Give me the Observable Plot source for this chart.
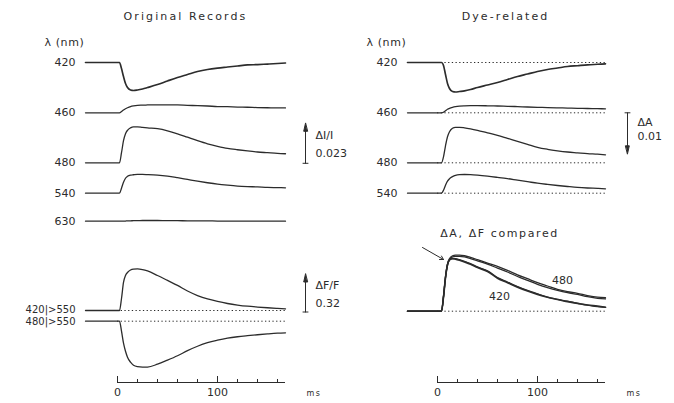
<!DOCTYPE html>
<html><head><meta charset="utf-8">
<script src="https://cdn.jsdelivr.net/npm/d3@7"></script>
<script src="https://cdn.jsdelivr.net/npm/@observablehq/plot@0.6"></script>
<style>
html,body{margin:0;padding:0;background:#fff;}
#chart svg{display:block;}
</style></head><body><div id="chart"></div>
<script>
// ---------------- DATA ----------------
const panels = ["Original Records", "Dye-related"];
const compareTitle = "ΔA, ΔF compared";
const lambdaLabel = "λ (nm)";
const unitLabel = "ms";
const axisTicks = [0, 20, 40, 60, 80, 100, 120, 140, 160];
const axisTickLabels = [0, 100];

// time (ms) of samples
const timeOriginal = [-32,0,2,4,6,8,10,13,16,20,25,30,40,50,60,70,80,90,100,110,120,130,140,150,160,168];
const timeDye      = [-30,0,4,6,8,10,12,15,18,22,27,33,40,50,60,70,80,90,100,110,120,130,140,150,160,168];

// Original records: transmitted light changes ΔI/I (×10⁻³)
const originalWavelengths = ["420", "460", "480", "540", "630"];
const orig420 = [0,0,0,-3.5,-8.1,-12.1,-14.4,-15.8,-16.1,-15.8,-15.2,-14.4,-12.7,-10.6,-8.6,-6.9,-5.2,-4.0,-3.2,-2.6,-2.0,-1.4,-1.2,-0.9,-0.6,-0.3];
const orig460 = [0,0,0,0.7,1.6,2.3,2.9,3.6,4.0,4.3,4.4,4.5,4.6,4.6,4.5,4.3,4.1,3.9,3.6,3.5,3.3,3.2,3.0,2.9,2.8,2.8];
const orig480 = [0,0,0,5.8,12.7,16.7,18.7,20.1,20.7,20.7,20.4,20.1,19.6,18.4,16.7,14.7,12.7,10.9,9.5,8.3,7.5,6.8,6.2,5.8,5.4,5.2];
const orig540 = [0,0,0,2.9,6.3,8.6,9.7,10.4,10.6,10.8,10.8,10.7,10.4,9.8,8.9,7.9,6.9,6.0,5.2,4.6,4.1,3.8,3.6,3.3,3.2,3.1];
const orig630 = [0,0,0,0,0,0.1,0.2,0.2,0.3,0.3,0.4,0.4,0.4,0.3,0.3,0.2,0.2,0.2,0.1,0.1,0.1,0.1,0,0,0,0];

// Fluorescence ΔF/F (excitation | emission)
const fluoLabels = ["420|>550", "480|>550"];
const fluo420 = [0,0,0,0.101,0.236,0.295,0.320,0.341,0.349,0.351,0.345,0.333,0.295,0.253,0.211,0.164,0.126,0.097,0.076,0.059,0.046,0.036,0.029,0.023,0.018,0.014];
const fluo480 = [0,0,0,-0.084,-0.185,-0.253,-0.303,-0.345,-0.371,-0.383,-0.387,-0.386,-0.362,-0.328,-0.291,-0.248,-0.211,-0.181,-0.160,-0.143,-0.131,-0.122,-0.114,-0.107,-0.101,-0.098];

// Dye-related absorbance changes ΔA (×10⁻³)
const dyeWavelengths = ["420", "460", "480", "540"];
const dye420 = [0,0,0,0.75,3,5.25,6.5,7.25,7.38,7.25,7.08,6.75,6.25,5.63,5,4.25,3.5,2.88,2.25,1.75,1.38,1,0.8,0.6,0.45,0.33];
const dye460 = [0,0,0,-0.13,-0.5,-0.88,-1.13,-1.38,-1.55,-1.68,-1.75,-1.78,-1.78,-1.75,-1.7,-1.63,-1.55,-1.45,-1.38,-1.3,-1.25,-1.18,-1.13,-1.08,-1.03,-1];
const dye480 = [0,0,0,-1.5,-4.25,-6.5,-7.75,-8.63,-8.88,-8.88,-8.75,-8.5,-8.13,-7.5,-6.88,-6.13,-5.38,-4.63,-3.88,-3.38,-3,-2.7,-2.5,-2.3,-2.15,-2];
const dye540 = [0,0,0,-0.75,-2,-3,-3.63,-4.13,-4.45,-4.63,-4.68,-4.63,-4.5,-4.25,-3.95,-3.63,-3.25,-2.88,-2.5,-2.2,-1.93,-1.68,-1.45,-1.3,-1.2,-1.1];

// ΔA, ΔF compared (normalized)
const compareLabels = ["480", "420"];
const cmp480A = [0,0,0,0.26,0.61,0.84,0.94,0.99,1,1,0.99,0.96,0.92,0.86,0.8,0.73,0.65,0.58,0.51,0.45,0.39,0.35,0.32,0.28,0.25,0.24];
const cmp480F = [0,0,0,0.26,0.6,0.82,0.92,0.97,0.98,0.98,0.97,0.94,0.9,0.84,0.77,0.7,0.62,0.55,0.48,0.42,0.37,0.33,0.3,0.26,0.23,0.22];
const cmp420A = [0,0,0,0.26,0.61,0.84,0.91,0.94,0.94,0.92,0.89,0.85,0.79,0.72,0.6,0.52,0.44,0.37,0.31,0.25,0.21,0.18,0.14,0.11,0.08,0.07];
const cmp420F = [0,0,0,0.25,0.6,0.83,0.92,0.94,0.93,0.91,0.88,0.84,0.78,0.71,0.59,0.51,0.43,0.36,0.3,0.25,0.21,0.17,0.14,0.11,0.09,0.07];

// calibration bars
const barAbs = {label: "ΔI/I", value: 0.023};
const barFluo = {label: "ΔF/F", value: 0.32};
const barDye = {label: "ΔA", value: 0.01};

// ---------------- LAYOUT ----------------
const W = 674, H = 403;
const ink = "#2c2c2c";
const [P0, P1] = panels;
const origRows = [62, 112.3, 162.3, 192.7, 220.7];
const fluoRows = [310, 320.7];
const dyeRows = [62, 112.3, 162.3, 192.7];
const cmpRow = 310.7;
const axisRow = 382;
const gAbs = 40 / 23;      // px per 1e-3 ΔI/I
const gFluo = 38 / 0.32;   // px per unit ΔF/F
const gDye = -4;           // px per 1e-3 ΔA (positive ΔA drawn downward)
const gCmp = 56;           // px per normalized unit
const t0 = timeOriginal[0], t1 = timeDye[0], tEnd = 168;

function series(panel, id, times, vals, base, gain, heavy) {
  return times.map((t, i) => ({panel, id, t, y: base - gain * vals[i], heavy}));
}
const traces = [
  ...series(P0, "o420", timeOriginal, orig420, origRows[0], gAbs, true),
  ...series(P0, "o460", timeOriginal, orig460, origRows[1], gAbs),
  ...series(P0, "o480", timeOriginal, orig480, origRows[2], gAbs),
  ...series(P0, "o540", timeOriginal, orig540, origRows[3], gAbs),
  ...series(P0, "o630", timeOriginal, orig630, origRows[4], gAbs),
  ...series(P0, "f420", timeOriginal, fluo420, fluoRows[0], gFluo),
  ...series(P0, "f480", timeOriginal, fluo480, fluoRows[1], gFluo),
  ...series(P1, "d420", timeDye, dye420, dyeRows[0], gDye, true),
  ...series(P1, "d460", timeDye, dye460, dyeRows[1], gDye),
  ...series(P1, "d480", timeDye, dye480, dyeRows[2], gDye),
  ...series(P1, "d540", timeDye, dye540, dyeRows[3], gDye),
  ...series(P1, "c480A", timeDye, cmp480A, cmpRow, gCmp),
  ...series(P1, "c480F", timeDye, cmp480F, cmpRow, gCmp),
  ...series(P1, "c420A", timeDye, cmp420A, cmpRow, gCmp),
  ...series(P1, "c420F", timeDye, cmp420F, cmpRow, gCmp, true)
];
const thin = traces.filter(d => !d.heavy), thick = traces.filter(d => d.heavy);

const dotted = [
  ...fluoRows.map(y => ({panel: P0, y})),
  ...dyeRows.map(y => ({panel: P1, y})),
  {panel: P1, y: cmpRow}
];
const rowLabels = [
  ...originalWavelengths.map((s, i) => ({panel: P0, x: t0, y: origRows[i], s})),
  ...dyeWavelengths.map((s, i) => ({panel: P1, x: t1, y: dyeRows[i], s}))
];
const fluoRowLabels = fluoLabels.map((s, i) => ({panel: P0, x: t0, y: fluoRows[i] + (i ? 1 : -0.5), s}));
const lambdas = [{panel: P0, x: t0}, {panel: P1, x: t1}];
const ticks = panels.flatMap(panel => axisTicks.map(t => ({panel, t, major: axisTickLabels.includes(t)})));
const tickLabels = panels.flatMap(panel => axisTickLabels.map(t => ({panel, t})));

// calibration bar shape: stem with filled narrow head and tail tick
const barShape = {
  draw(ctx, l) {
    ctx.moveTo(-2.5, 0); ctx.lineTo(2.5, 0);
    ctx.moveTo(0, 0); ctx.lineTo(0, -l + 7);
    ctx.moveTo(0, -l); ctx.lineTo(-1.8, -l + 8); ctx.lineTo(1.8, -l + 8); ctx.closePath();
  }
};
const bars = [
  {panel: P0, x: 188, y: origRows[2] + 0.5, len: barAbs.value * 1000 * gAbs, rot: 0},
  {panel: P0, x: 188, y: fluoRows[0] + 1.5, len: barFluo.value * gFluo, rot: 0},
  {panel: P1, x: 190, y: dyeRows[1], len: barDye.value * 1000 * Math.abs(gDye) + 1, rot: 180}
];
const barText = [
  {panel: P0, x: 188, y: 135, s: barAbs.label}, {panel: P0, x: 188, y: 153, s: String(barAbs.value)},
  {panel: P0, x: 188, y: 285, s: barFluo.label}, {panel: P0, x: 188, y: 303, s: String(barFluo.value)},
  {panel: P1, x: 190, y: 122, s: barDye.label}, {panel: P1, x: 190, y: 136, s: String(barDye.value)}
];
const cmpText = [
  {panel: P1, x: 125, y: 280, s: compareLabels[0]},
  {panel: P1, x: 62, y: 296, s: compareLabels[1]}
];

const font = "DejaVu Sans";
const chart = Plot.plot({
  width: W, height: H,
  marginLeft: 85, marginRight: 69, marginTop: 0, marginBottom: 0,
  x: {domain: [t0, tEnd], axis: null},
  y: {domain: [0, H], range: [0, H], axis: null},
  fx: {domain: panels, paddingInner: 0.375, paddingOuter: 0, axis: null},
  style: {fontFamily: font, fontSize: "11px", background: "#fff", color: ink, overflow: "visible"},
  marks: [
    Plot.ruleY(dotted, {fx: "panel", y: "y", x1: 0, x2: tEnd, stroke: ink, strokeWidth: 1, strokeDasharray: "1.3,2.4"}),
    Plot.line(thin, {fx: "panel", x: "t", y: "y", z: "id", curve: "monotone-x", stroke: ink, strokeWidth: 1.3}),
    Plot.line(thick, {fx: "panel", x: "t", y: "y", z: "id", curve: "monotone-x", stroke: ink, strokeWidth: 1.65}),
    // panel titles
    Plot.text(panels, {fx: d => d, text: d => d, frameAnchor: "top", lineAnchor: "middle", dy: 16, fontSize: 11, fill: ink}),
    // λ (nm)
    Plot.text(lambdas, {fx: "panel", x: "x", y: 42, text: () => lambdaLabel, textAnchor: "start", dx: -41, fill: ink}),
    // row labels
    Plot.text(rowLabels, {fx: "panel", x: "x", y: "y", text: "s", textAnchor: "end", dx: -10, fill: ink}),
    Plot.text(fluoRowLabels, {fx: "panel", x: "x", y: "y", text: "s", textAnchor: "end", dx: -10, fontSize: 10, fill: ink}),
    // time axis
    Plot.ruleY(panels, {fx: d => d, y: axisRow, x1: 0, x2: tEnd, stroke: ink, strokeWidth: 1}),
    Plot.ruleX(ticks, {fx: "panel", x: "t", y1: axisRow, y2: d => axisRow - (d.major ? 6 : 3), stroke: ink, strokeWidth: 1}),
    Plot.text(tickLabels, {fx: "panel", x: "t", y: axisRow + 10, text: d => String(d.t), fill: ink}),
    Plot.text(panels, {fx: d => d, x: tEnd, y: axisRow + 11, text: () => unitLabel, textAnchor: "start", dx: 21, fontSize: 8, fill: ink}),
    // calibration bars
    ...bars.map(b => Plot.vector([b], {fx: "panel", x: "x", y: "y", length: b.len, rotate: b.rot, anchor: "start", shape: barShape, stroke: ink, fill: ink, strokeWidth: 1})),
    Plot.text(barText, {fx: "panel", x: "x", y: "y", text: "s", textAnchor: "start", dx: 10, fill: ink}),
    // comparison annotations
    Plot.text([{panel: P1}], {fx: "panel", x: 62, y: 233, text: () => compareTitle, fill: ink}),
    Plot.text(cmpText, {fx: "panel", x: "x", y: "y", text: "s", fill: ink}),
    Plot.arrow([{panel: P1, x1: -15, y1: 247, x2: 6, y2: 259}], {fx: "panel", x1: "x1", y1: "y1", x2: "x2", y2: "y2", stroke: ink, strokeWidth: 1, headLength: 6})
  ]
});
document.getElementById("chart").appendChild(chart);
// letter spacing like the plotter lettering of the original
const spacing = new Map([[panels[0], "2.1px"], [panels[1], "2.1px"], [compareTitle, "1.6px"], [lambdaLabel, "0.6px"], [unitLabel, "1.5px"]]);
d3.select(chart).selectAll("text").each(function () {
  const s = spacing.get(this.textContent);
  if (s) this.style.letterSpacing = s;
});
</script></body></html>
